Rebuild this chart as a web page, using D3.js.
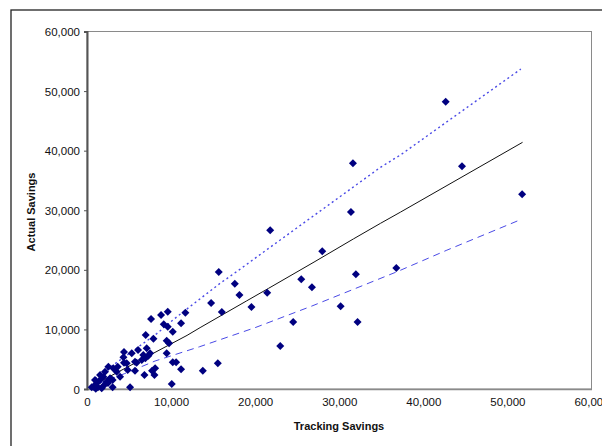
<!DOCTYPE html>
<html>
<head>
<meta charset="utf-8">
<script src="https://cdn.jsdelivr.net/npm/d3@7"></script>
<style>
  body { margin: 0; background: #fff; }
  svg { display: block; font-family: "Liberation Sans", Arial, sans-serif; }
</style>
</head>
<body>
<svg width="602" height="446"></svg>
<script>
// tracking vs actual savings, one entry per project
var trackingSavings = [42660, 44600, 51750, 31630, 31390, 21790, 27980, 15670, 17580, 18130,
  14760, 16030, 19560, 21430, 25480, 26750, 31980, 36790, 30160, 32180,
  24520, 22980, 15560, 13770, 7620, 8810, 9600, 11700, 11190, 9130,
  9600, 10200, 6980, 7900, 9480, 9760, 9480, 4400, 5320, 6070,
  7100, 6700, 6940, 6510, 5710, 4720, 4330, 3650, 4840, 5710,
  3530, 3930, 3050, 2540, 2140, 1940, 1550, 1150, 750, 1750,
  1040, 3050, 5120, 10080, 6830, 8020, 8100, 7740, 10200, 10600,
  11190, 950, 560, 2340, 1550, 2740, 4400, 3130, 7300, 7500,
  5900, 2000, 1300, 2500];
var actualSavings = [48200, 37370, 32670, 37870, 29700, 26630, 23100, 19630, 17670, 15770,
  14430, 12920, 13760, 16160, 18400, 17060, 19240, 20300, 13870, 11240,
  11240, 7210, 4310, 3080, 11740, 12420, 12970, 12800, 11020, 10850,
  10450, 9620, 9060, 8440, 8110, 7660, 5990, 6210, 5990, 6540,
  6820, 5700, 5150, 4870, 4590, 4310, 5320, 3750, 3190, 3080,
  2910, 2070, 1510, 3750, 2910, 2070, 1510, 950, 390, 110,
  60, 280, 280, 840, 2350, 2350, 3470, 3080, 4480, 4480,
  3300, 1510, 280, 1230, 2350, 1800, 4400, 3470, 5600, 6000,
  4400, 600, 300, 1000];

// fitted line and upper / lower bands (x, y)
var fitLine = [[800, 600], [2300, 1800], [7100, 5400], [11900, 9000], [13450, 10300],
  [19000, 14800], [21600, 16900], [27000, 21300], [31700, 25200], [34900, 27800],
  [37300, 29700], [51800, 41400]];
var upperLine = [[1000, 1700], [2800, 3700], [8300, 9300], [10500, 11900], [13500, 15200],
  [15800, 17700], [18000, 19900], [21600, 23600], [34900, 37200], [37300, 39300],
  [51600, 53700]];
var lowerLine = [[1200, 800], [4500, 2600], [8100, 4700], [13400, 7100], [20000, 10300],
  [26700, 13900], [36900, 19700], [42800, 23300], [51700, 28500]];

var xTicks = [0, 10000, 20000, 30000, 40000, 50000, 60000];
var yTicks = [0, 10000, 20000, 30000, 40000, 50000, 60000];

var svg = d3.select("svg");

var x = d3.scaleLinear().domain([0, 60000]).range([87, 591.5]);
var y = d3.scaleLinear().domain([0, 60000]).range([389, 31.5]);
var fmt = d3.format(",");

// outer chart frame (only top and left edges show in the window)
svg.append("rect")
  .attr("x", 11).attr("y", 10)
  .attr("width", 640).attr("height", 480)
  .attr("fill", "none")
  .attr("stroke", "#222").attr("stroke-width", 1.3);

// plot area border
svg.append("rect")
  .attr("x", x(0)).attr("y", y(60000))
  .attr("width", x(60000) - x(0)).attr("height", y(0) - y(60000))
  .attr("fill", "#fff")
  .attr("stroke", "#8a8a8a").attr("stroke-width", 1);

var xAxis = svg.append("g")
  .attr("transform", "translate(0," + y(0) + ")")
  .call(d3.axisBottom(x).tickValues(xTicks).tickFormat(fmt).tickSize(0).tickPadding(9));
xAxis.select(".domain").attr("stroke", "#8a8a8a").attr("stroke-width", 1.5);

var yAxis = svg.append("g")
  .attr("transform", "translate(" + x(0) + ",0)")
  .call(d3.axisLeft(y).tickValues(yTicks).tickFormat(fmt).tickSize(3).tickPadding(4));
yAxis.select(".domain").attr("stroke", "#555").attr("stroke-width", 2);
yAxis.selectAll(".tick line").attr("stroke", "#555");

svg.selectAll(".tick text")
  .attr("font-family", "Liberation Sans, Arial, sans-serif")
  .attr("font-size", 11.5)
  .attr("fill", "#111");
yAxis.selectAll(".tick text").attr("dy", "0.36em");

var line = d3.line()
  .x(function(d) { return x(d[0]); })
  .y(function(d) { return y(d[1]); });

svg.append("path")
  .datum(upperLine)
  .attr("d", line)
  .attr("fill", "none")
  .attr("stroke", "#4a4ae6").attr("stroke-width", 1.4)
  .attr("stroke-dasharray", "2,3");

svg.append("path")
  .datum(lowerLine)
  .attr("d", line)
  .attr("fill", "none")
  .attr("stroke", "#4a4ae6").attr("stroke-width", 1)
  .attr("stroke-dasharray", "7,5");

svg.append("path")
  .datum(fitLine)
  .attr("d", line)
  .attr("fill", "none")
  .attr("stroke", "#111").attr("stroke-width", 1);

var diamond = d3.symbol().type(d3.symbolSquare).size(32);

svg.append("g")
  .selectAll("path")
  .data(d3.range(trackingSavings.length))
  .enter().append("path")
  .attr("d", diamond)
  .attr("transform", function(i) {
    return "translate(" + x(trackingSavings[i]) + "," + y(actualSavings[i]) + ") rotate(45)";
  })
  .attr("fill", "#000080");

svg.append("text")
  .attr("x", 339).attr("y", 430)
  .attr("text-anchor", "middle")
  .attr("font-size", 11).attr("font-weight", "bold")
  .attr("fill", "#111")
  .text("Tracking Savings");

svg.append("text")
  .attr("transform", "translate(35,212) rotate(-90)")
  .attr("text-anchor", "middle")
  .attr("font-size", 11).attr("font-weight", "bold")
  .attr("fill", "#111")
  .text("Actual Savings");
</script>
</body>
</html>
